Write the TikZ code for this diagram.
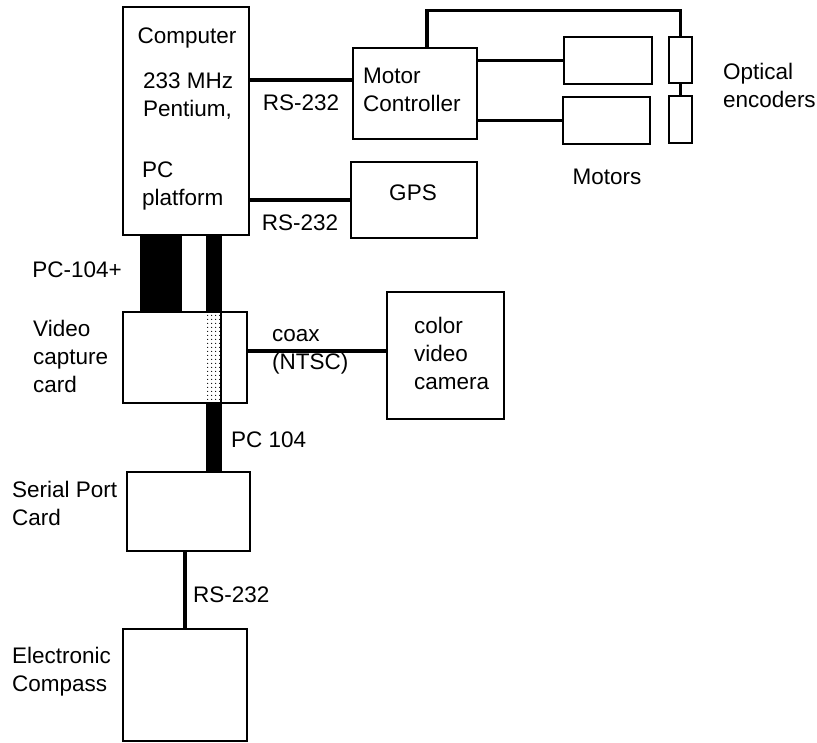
\documentclass[tikz,border=0pt]{standalone}
\usepackage{fontspec}
\setmainfont{Liberation Sans}
\usetikzlibrary{positioning,patterns.meta}

\begin{document}
\begin{tikzpicture}[x=1pt,y=-1pt,
	box/.style={draw,line width=1.5pt,inner sep=0pt},
	conn/.style={line width=3.4pt},
	lbl/.style={inner sep=0pt,align=left,font=\fontsize{22.5}{28}\selectfont}]
		\useasboundingbox (0,0) rectangle (817,743);
		%Cajas
		\node[box,minimum width=126pt,minimum height=228pt] (comp) at (186,121) {};
		\node[box,minimum width=124pt,minimum height=91pt] (mc) at (415,93.5) {};
		\node[box,minimum width=126pt,minimum height=76pt] (gps) at (414,200) {};
		\node[box,minimum width=88pt,minimum height=47pt] (motA) at (608,60.5) {};
		\node[box,minimum width=87pt,minimum height=47pt] (motB) at (606.5,120.5) {};
		\node[box,minimum width=23pt,minimum height=46pt] (encA) at (680.5,60) {};
		\node[box,minimum width=23pt,minimum height=47pt] (encB) at (680.5,119.5) {};
		\node[box,minimum width=124pt,minimum height=91pt] (vcc) at (185,357.5) {};
		\node[box,minimum width=117pt,minimum height=127pt] (cam) at (445.5,355.5) {};
		\node[box,minimum width=123pt,minimum height=79pt] (spc) at (188.5,511.5) {};
		\node[box,minimum width=124pt,minimum height=112pt] (ecomp) at (185,685) {};
		%Cajas
		
		%Texto dentro
		\node[lbl,anchor=center] (tcomp) at (187,38) {Computer};
		\node[lbl,anchor=west] (tpent) at (143,96) {233 MHz\\Pentium,};
		\node[lbl,anchor=west] (tplat) at (142,186) {PC\\platform};
		\node[lbl,anchor=west] (tmc) at (363,90) {Motor\\Controller};
		\node[lbl] (tgps) at (413,193) {GPS};
		\node[lbl,anchor=west] (tcam) at (414,353) {color\\video\\camera};
		
		%Texto fuera
		\node[lbl] (tmot) at (607,177) {Motors};
		\node[lbl,anchor=west] (tenc) at (723,85) {Optical\\encoders};
		\node[lbl] (tpcp) at (77,270) {PC-104+};
		\node[lbl,anchor=west] (tvcc) at (33,356) {Video\\capture\\card};
		\node[lbl,anchor=west] (tcoax) at (272,352) {coax\\(NTSC)};
		\node[lbl,anchor=west] (tpc) at (231,440) {PC 104};
		\node[lbl,anchor=west] (tspc) at (12,503) {Serial Port\\Card};
		\node[lbl,anchor=west] (tecomp) at (12,672) {Electronic\\Compass};
		
		%Lineas
		\coordinate (rsA) at (300,80);
		\draw[conn] (rsA -| comp.east) -- (rsA -| mc.west)
			node[lbl,midway,below=13pt] (trsA) {RS-232};
		\draw[conn] (comp.east |- gps.west) -- (gps.west)
			node[lbl,midway,below=13pt] (trsB) {RS-232};
		\draw[conn] (mc.east |- motA.west) -- (motA.west);
		\draw[conn] (mc.east |- motB.west) -- (motB.west);
		\draw[conn] ([xshift=12pt]mc.north) |- ([yshift=26pt]encA.north) -- (encA.north);
		\draw[conn] (encA.south) -- (encB.north);
		\draw[conn] (vcc.east |- 0,351) -- (cam.west |- 0,351);
		\draw[conn] (ecomp.north |- spc.south) -- (ecomp.north);
		\node[lbl,anchor=west] (trsC) at (193,595) {RS-232};
		
		%Bus PC-104
		\fill (140,235) rectangle (182,312);
		\fill (206,235) rectangle (222,312);
		\fill[pattern={Dots[distance=4pt,radius=0.75pt]}] (206,312) rectangle (221,403);
		\draw[line width=1.5pt] (221,312) -- (221,403);
		\fill (206,403) rectangle (222,472);
		
	\end{tikzpicture}
\end{document}
